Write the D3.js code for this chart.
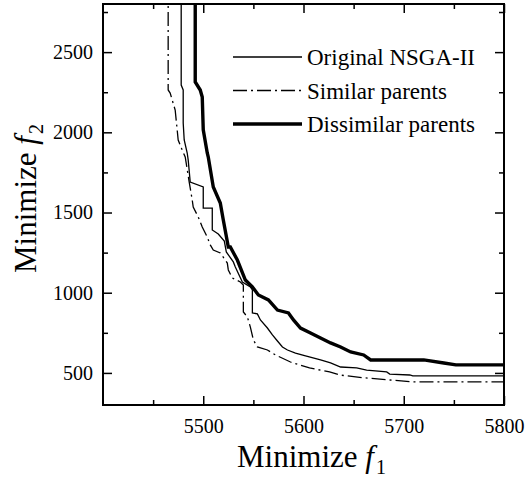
<!DOCTYPE html>
<html>
<head>
<meta charset="utf-8">
<script src="https://cdn.jsdelivr.net/npm/d3@7"></script>
<style>
  body { margin: 0; background: #fff; }
  svg text { font-family: "Times New Roman", "Liberation Serif", Times, serif; fill: #000; }
</style>
</head>
<body>
<script>
const w = 525;
const h = 479;
const margin = { top: 4, right: 21, bottom: 74, left: 103 };
const serif = '"Times New Roman", "Liberation Serif", Times, serif';

// tick values
const xTicks = [5500, 5600, 5700, 5800];
const xMinor = [5450, 5550, 5650, 5750];
const yTicks = [500, 1000, 1500, 2000, 2500];
const yMinor = [750, 1250, 1750, 2250, 2750];

// series names
const seriesNames = ['Original NSGA-II', 'Similar parents', 'Dissimilar parents'];

// Original NSGA-II (thin solid)
const originalF1 = [5478, 5478, 5480, 5480, 5481, 5484, 5485, 5487, 5500, 5500, 5509, 5509, 5515, 5521, 5523,
  5530, 5532, 5539, 5547, 5549, 5549, 5554, 5557, 5564, 5569, 5574, 5579, 5584, 5592, 5602, 5617, 5627,
  5637, 5653, 5663, 5683, 5686, 5706, 5709, 5800];
const originalF2 = [2900, 2295, 2264, 2058, 1952, 1871, 1827, 1690, 1659, 1528, 1528, 1391, 1366, 1322, 1254,
  1192, 1160, 1067, 1036, 1017, 874, 868, 830, 780, 737, 699, 662, 643, 624, 606, 581, 562,
  537, 531, 518, 506, 493, 487, 481, 481];

// Similar parents (dash-dot)
const similarF1 = [5465, 5465, 5467, 5469, 5472, 5475, 5479, 5482, 5486, 5489, 5490, 5495, 5499, 5504, 5507,
  5510, 5517, 5524, 5525, 5529, 5537, 5540, 5540, 5544, 5547, 5550, 5554, 5564, 5572, 5587, 5606, 5626,
  5636, 5661, 5686, 5709, 5800];
const similarF2 = [2900, 2264, 2245, 2202, 2139, 1952, 1890, 1846, 1690, 1578, 1534, 1472, 1410, 1347, 1298,
  1266, 1248, 1185, 1142, 1092, 1067, 1048, 880, 849, 786, 705, 662, 643, 612, 568, 531, 506,
  487, 469, 456, 444, 444];

// Dissimilar parents (thick solid)
const dissimilarF1 = [5492, 5492, 5497, 5499, 5500, 5504, 5505, 5510, 5517, 5520, 5525, 5527, 5534, 5542, 5549,
  5555, 5565, 5574, 5585, 5590, 5597, 5607, 5617, 5627, 5637, 5647, 5660, 5667, 5720, 5740, 5752, 5800];
const dissimilarF2 = [2900, 2314, 2264, 2220, 2015, 1871, 1846, 1659, 1559, 1453, 1285, 1285, 1204, 1079, 1036,
  986, 955, 892, 874, 830, 780, 749, 718, 687, 662, 631, 612, 581, 581, 562, 550, 550];

const svg = d3.select('body')
  .append('svg')
  .attr('width', w)
  .attr('height', h);

const xScale = d3.scaleLinear()
  .domain([5400, 5800])
  .range([margin.left, w - margin.right]);

const yScale = d3.scaleLinear()
  .domain([300, 2800])
  .range([h - margin.bottom, margin.top]);

svg.append('clipPath')
  .attr('id', 'clip')
  .append('rect')
  .attr('x', margin.left)
  .attr('y', margin.top)
  .attr('width', w - margin.left - margin.right)
  .attr('height', h - margin.top - margin.bottom);

const line = d3.line()
  .x((d) => xScale(d[0]))
  .y((d) => yScale(d[1]));

const series = [
  { name: seriesNames[0], f1: originalF1, f2: originalF2, width: 1.3, dash: null },
  { name: seriesNames[1], f1: similarF1, f2: similarF2, width: 1.3, dash: '14,4,2,4' },
  { name: seriesNames[2], f1: dissimilarF1, f2: dissimilarF2, width: 3.4, dash: null }
];

svg.append('g')
  .attr('clip-path', 'url(#clip)')
  .selectAll('path')
  .data(series)
  .enter()
  .append('path')
  .attr('d', (s) => line(s.f1.map((v, i) => [v, s.f2[i]])))
  .attr('fill', 'none')
  .attr('stroke', '#000')
  .attr('stroke-width', (s) => s.width)
  .attr('stroke-dasharray', (s) => s.dash);

// axes, ticks pointing inward on all four sides
const major = 9;
const minor = 5;
const fmt = d3.format('d');

function drawAxis(axis, transform, labels) {
  const g = svg.append('g')
    .attr('class', 'axis')
    .attr('transform', transform)
    .attr('font-family', serif)
    .attr('font-size', 20)
    .call(axis);
  g.select('.domain').remove();
  g.selectAll('line').attr('stroke', '#000').attr('stroke-width', 1.5);
  g.selectAll('text').attr('font-family', serif).attr('font-size', 20);
  if (!labels) g.selectAll('text').remove();
  return g;
}

const xb = h - margin.bottom;
const yl = margin.left;
const xr = w - margin.right;

drawAxis(d3.axisBottom(xScale).tickValues(xTicks).tickSize(-major).tickPadding(14).tickFormat(fmt), 'translate(0,' + xb + ')', true);
drawAxis(d3.axisBottom(xScale).tickValues(xMinor).tickSize(-minor).tickFormat(''), 'translate(0,' + xb + ')', false);
drawAxis(d3.axisTop(xScale).tickValues(xTicks).tickSize(-major).tickFormat(''), 'translate(0,' + margin.top + ')', false);
drawAxis(d3.axisTop(xScale).tickValues(xMinor).tickSize(-minor).tickFormat(''), 'translate(0,' + margin.top + ')', false);

drawAxis(d3.axisLeft(yScale).tickValues(yTicks).tickSize(-major).tickPadding(10).tickFormat(fmt), 'translate(' + yl + ',0)', true);
drawAxis(d3.axisLeft(yScale).tickValues(yMinor).tickSize(-minor).tickFormat(''), 'translate(' + yl + ',0)', false);
drawAxis(d3.axisRight(yScale).tickValues(yTicks).tickSize(-major).tickFormat(''), 'translate(' + xr + ',0)', false);
drawAxis(d3.axisRight(yScale).tickValues(yMinor).tickSize(-minor).tickFormat(''), 'translate(' + xr + ',0)', false);

// frame
svg.append('rect')
  .attr('x', margin.left)
  .attr('y', margin.top)
  .attr('width', w - margin.left - margin.right)
  .attr('height', h - margin.top - margin.bottom)
  .attr('fill', 'none')
  .attr('stroke', '#000')
  .attr('stroke-width', 2);

// axis titles
const xTitle = svg.append('text')
  .attr('x', 237)
  .attr('y', 467)
  .attr('font-family', serif)
  .attr('font-size', 31);
xTitle.append('tspan').text('Minimize ');
xTitle.append('tspan').attr('font-style', 'italic').text('f');
xTitle.append('tspan').attr('dy', 7).attr('dx', 2).attr('font-size', 20).text('1');

const yTitle = svg.append('text')
  .attr('transform', 'translate(36,273) rotate(-90)')
  .attr('font-family', serif)
  .attr('font-size', 31);
yTitle.append('tspan').text('Minimize ');
yTitle.append('tspan').attr('font-style', 'italic').text('f');
yTitle.append('tspan').attr('dy', 7).attr('dx', 2).attr('font-size', 20).text('2');

// legend
const legendY = [57, 90.5, 124];
const legend = svg.append('g')
  .selectAll('g')
  .data(series)
  .enter()
  .append('g')
  .attr('transform', (s, i) => 'translate(0,' + legendY[i] + ')');

legend.append('line')
  .attr('x1', 233)
  .attr('x2', 302)
  .attr('stroke', '#000')
  .attr('stroke-width', (s) => s.width)
  .attr('stroke-dasharray', (s) => s.dash);

legend.append('text')
  .attr('x', 307)
  .attr('y', 8)
  .attr('font-family', serif)
  .attr('font-size', 23)
  .text((s) => s.name);
</script>
</body>
</html>
